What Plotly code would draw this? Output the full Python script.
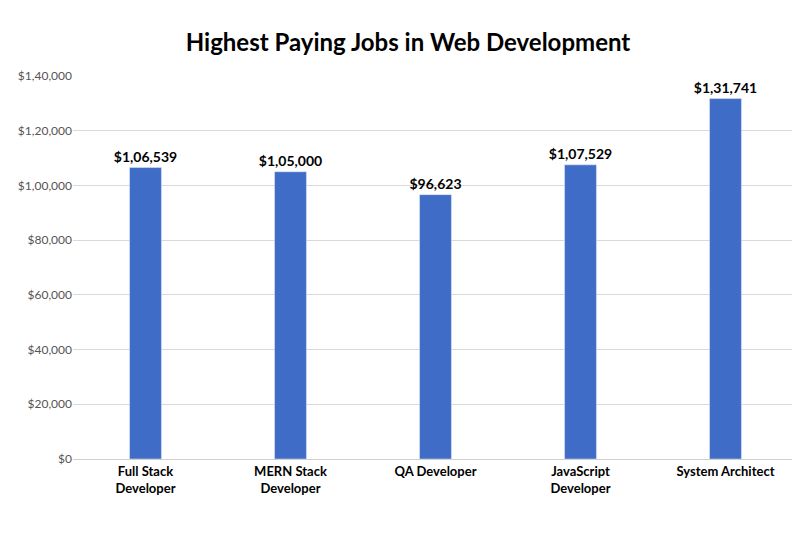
import plotly.graph_objects as go

jobs = ["Full Stack<br>Developer", "MERN Stack<br>Developer", "QA Developer",
        "JavaScript<br>Developer", "System Architect"]
salaries = [106539, 105000, 96623, 107529, 131741]
salary_labels = ["$1,06,539", "$1,05,000", "$96,623", "$1,07,529", "$1,31,741"]
tick_vals = [0, 20000, 40000, 60000, 80000, 100000, 120000, 140000]
tick_text = ["$0", "$20,000", "$40,000", "$60,000", "$80,000",
             "$1,00,000", "$1,20,000", "$1,40,000"]

fig = go.Figure(go.Bar(
    x=jobs, y=salaries, text=salary_labels, textposition="outside",
    constraintext="none",
    textfont=dict(family="Lato", size=14, color="black", weight="bold"),
    marker=dict(color="#3f6cc6"), cliponaxis=False,
))
fig.update_layout(
    width=800, height=533,
    title=dict(text="<b>Highest Paying Jobs in Web Development</b>", x=0.5, y=0.95,
               font=dict(family="Lato", size=24, color="black")),
    plot_bgcolor="white", paper_bgcolor="white",
    margin=dict(l=62, r=10, t=68, b=82),
    bargap=0.78, showlegend=False,
    font=dict(family="Lato", color="#333"),
)
fig.update_xaxes(tickfont=dict(size=13, color="black", weight="bold"),
                 showline=True, linecolor="#d0d0d0")
fig.update_yaxes(range=[0, 140000], tickvals=tick_vals, ticktext=tick_text,
                 tickfont=dict(size=12, color="#555"), gridcolor="#d9d9d9",
                 zeroline=False)
fig.write_html("out.html")
